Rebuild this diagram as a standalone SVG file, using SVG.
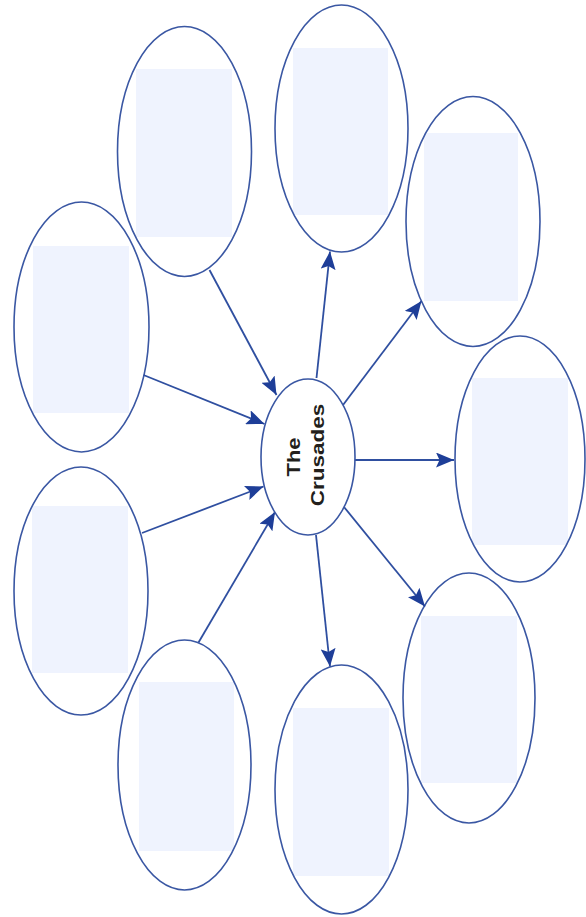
<svg xmlns="http://www.w3.org/2000/svg" width="586" height="917" viewBox="0 0 586 917">
<style>
.bg{fill:#ffffff}
.bub{fill:none;stroke:#3A57A3;stroke-width:1.6}
.pad{fill:#EFF3FE}
.con line{stroke:#2F4FA0;stroke-width:1.8;marker-end:url(#ah)}
.lbl{font-family:"Liberation Sans",Arial,sans-serif;font-weight:bold;font-size:18px;fill:#231f1c}
</style>
<defs>
<marker id="ah" markerUnits="userSpaceOnUse" markerWidth="19" markerHeight="15" refX="18" refY="7.5" orient="auto">
<path d="M0,0 L18,7.5 L0,15 L3.5,7.5 z" fill="#1E3E98"/>
</marker>
</defs>
<rect width="586" height="917" fill="#ffffff"/>
<g id="node-tl"><ellipse class="bg" cx="184.5" cy="151.5" rx="67" ry="125"/><rect class="pad" x="136" y="69" width="96" height="168"/><ellipse class="bub" cx="184.5" cy="151.5" rx="67" ry="125"/></g>
<g id="node-t"><ellipse class="bg" cx="341.5" cy="128.5" rx="66.5" ry="123.5"/><rect class="pad" x="293" y="48" width="95" height="167"/><ellipse class="bub" cx="341.5" cy="128.5" rx="66.5" ry="123.5"/></g>
<g id="node-tr"><ellipse class="bg" cx="473" cy="221.5" rx="67" ry="125"/><rect class="pad" x="424" y="133" width="94" height="168"/><ellipse class="bub" cx="473" cy="221.5" rx="67" ry="125"/></g>
<g id="node-r"><ellipse class="bg" cx="520" cy="459" rx="65" ry="123"/><rect class="pad" x="472" y="378" width="96" height="167"/><ellipse class="bub" cx="520" cy="459" rx="65" ry="123"/></g>
<g id="node-br"><ellipse class="bg" cx="469" cy="698" rx="66" ry="125"/><rect class="pad" x="421" y="616" width="96" height="167"/><ellipse class="bub" cx="469" cy="698" rx="66" ry="125"/></g>
<g id="node-b"><ellipse class="bg" cx="341.5" cy="789.5" rx="66.5" ry="124.5"/><rect class="pad" x="293" y="708" width="96" height="168"/><ellipse class="bub" cx="341.5" cy="789.5" rx="66.5" ry="124.5"/></g>
<g id="node-bl"><ellipse class="bg" cx="184.5" cy="765" rx="66.5" ry="125"/><rect class="pad" x="139" y="682" width="95" height="169"/><ellipse class="bub" cx="184.5" cy="765" rx="66.5" ry="125"/></g>
<g id="node-ll"><ellipse class="bg" cx="81" cy="591" rx="67" ry="124"/><rect class="pad" x="32" y="506" width="96" height="167"/><ellipse class="bub" cx="81" cy="591" rx="67" ry="124"/></g>
<g id="node-lu"><ellipse class="bg" cx="81.5" cy="327" rx="67.5" ry="125"/><rect class="pad" x="33" y="246" width="96" height="167"/><ellipse class="bub" cx="81.5" cy="327" rx="67.5" ry="125"/></g>
<g id="connectors" class="con">
<line x1="209.5" y1="270" x2="276.5" y2="395"/>
<line x1="143.5" y1="375" x2="264.5" y2="424"/>
<line x1="142" y1="533" x2="263.5" y2="486.5"/>
<line x1="198.5" y1="642.5" x2="275" y2="512"/>
<line x1="316.5" y1="378" x2="330" y2="251.5"/>
<line x1="343" y1="405" x2="421.5" y2="301"/>
<line x1="355" y1="460" x2="454" y2="460"/>
<line x1="344" y1="507" x2="425" y2="606.5"/>
<line x1="316" y1="535" x2="330" y2="666.5"/>
</g>
<g id="node-center">
<ellipse cx="308" cy="457" rx="47" ry="78" fill="#ffffff" stroke="#3A57A3" stroke-width="1.6"/>
<text class="lbl" text-anchor="middle" transform="translate(300,457) rotate(-90) scale(1.22,1)">The</text>
<text class="lbl" text-anchor="middle" transform="translate(324,455) rotate(-90) scale(1.25,1)">Crusades</text>
</g>
</svg>
